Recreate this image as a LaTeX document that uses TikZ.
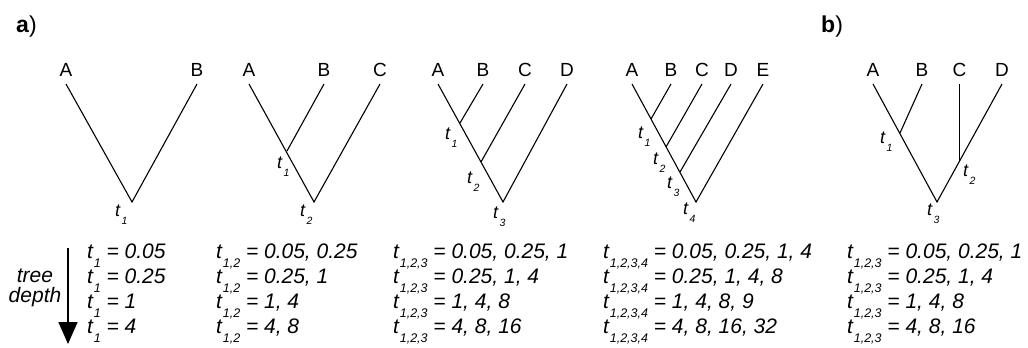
\documentclass[tikz,border=0pt]{standalone}
\usepackage{fontspec}
\setmainfont{Liberation Sans}
\usetikzlibrary{arrows.meta}
\newcommand{\tsub}[2][12.5]{\textit{t}\kern0.8pt\raisebox{-0.43em}{\fontsize{#1}{#1}\selectfont\itshape #2}}

\begin{document}
\begin{tikzpicture}[x=1pt, y=-1pt, every node/.style={inner sep=0pt}]
\tikzset{leaf/.style={anchor=south, inner ysep=7pt, font=\fontsize{19}{21}\selectfont},
  tl/.style={anchor=north west, font=\fontsize{18}{20}\selectfont},
  row/.style={anchor=base west, font=\fontsize{21}{24}\selectfont\itshape},
  br/.style={line width=1.1pt}}
\useasboundingbox (0,0) rectangle (1028,348);
% --- panel labels ---
\node[anchor=base west, font=\fontsize{23}{25}\selectfont] (pa) at (16,32) {\textbf{a})};
\node[anchor=base west, font=\fontsize{23}{25}\selectfont] (pb) at (821,32) {\textbf{b})};
% --- tree 1: two taxa ---
\node[leaf] (a1A) at (66,84) {A};
\node[leaf] (a1B) at (197,84) {B};
\coordinate (a1r) at (132,202);
\draw[br] (a1A.south) -- (a1r) -- (a1B.south);
\node[tl] (a1t1) at (115,205) {\tsub[10.5]{1}};
% --- tree 2: three taxa ---
\node[leaf] (a2A) at (249,84) {A};
\node[leaf] (a2B) at (324,84) {B};
\node[leaf] (a2C) at (380,84) {C};
\coordinate (a2j1) at (287,151);
\coordinate (a2r) at (314,202);
\draw[br] (a2A.south) -- (a2r) -- (a2C.south);
\draw[br] (a2B.south) -- (a2j1);
\node[tl] (a2t1) at (277,157) {\tsub[10.5]{1}};
\node[tl] (a2t2) at (300,205) {\tsub[10.5]{2}};
% --- tree 3: four taxa ---
\node[leaf] (a3A) at (438,84) {A};
\node[leaf] (a3B) at (483,84) {B};
\node[leaf] (a3C) at (525,84) {C};
\node[leaf] (a3D) at (567,84) {D};
\coordinate (a3j1) at (460,123);
\coordinate (a3j2) at (481,162);
\coordinate (a3r) at (503,202);
\draw[br] (a3A.south) -- (a3r) -- (a3D.south);
\draw[br] (a3B.south) -- (a3j1);
\draw[br] (a3C.south) -- (a3j2);
\node[tl] (a3t1) at (445,128) {\tsub[10.5]{1}};
\node[tl] (a3t2) at (467,172) {\tsub[10.5]{2}};
\node[tl] (a3t3) at (493,207) {\tsub[10.5]{3}};
% --- tree 4: five taxa ---
\node[leaf] (a4A) at (632,84) {A};
\node[leaf] (a4B) at (671,84) {B};
\node[leaf] (a4C) at (702,84) {C};
\node[leaf] (a4D) at (731,84) {D};
\node[leaf] (a4E) at (763,84) {E};
\coordinate (a4j1) at (651,119);
\coordinate (a4j2) at (666,147);
\coordinate (a4j3) at (680,172);
\coordinate (a4r) at (696,202);
\draw[br] (a4A.south) -- (a4r) -- (a4E.south);
\draw[br] (a4B.south) -- (a4j1);
\draw[br] (a4C.south) -- (a4j2);
\draw[br] (a4D.south) -- (a4j3);
\node[tl] (a4t1) at (638,127) {\tsub[10.5]{1}};
\node[tl] (a4t2) at (653,153) {\tsub[10.5]{2}};
\node[tl] (a4t3) at (667,177) {\tsub[10.5]{3}};
\node[tl] (a4t4) at (683,203) {\tsub[10.5]{4}};
% --- tree b: balanced four taxa ---
\node[leaf] (bA) at (873,84) {A};
\node[leaf] (bB) at (922,84) {B};
\node[leaf] (bC) at (959.5,84) {C};
\node[leaf] (bD) at (1002,84) {D};
\coordinate (bj1) at (900,133);
\coordinate (bj2) at (959.5,160);
\coordinate (br) at (937,202);
\draw[br] (bA.south) -- (br) -- (bD.south);
\draw[br] (bB.south) -- (bj1);
\draw[br] (bC.south) -- (bj2);
\node[tl] (bt1) at (880,132) {\tsub[10.5]{1}};
\node[tl] (bt2) at (963,165) {\tsub[10.5]{2}};
\node[tl] (bt3) at (927,204) {\tsub[10.5]{3}};
% --- tree depth arrow ---
\coordinate (d0) at (68,248);
\coordinate (d1) at (68,344);
\draw[line width=1.6pt, -{Triangle[width=19pt,length=22pt]}] (d0) -- (d1);
\node[align=center, font=\fontsize{21}{19.5}\selectfont\itshape] (depth) at (35,288) {tree\\depth};
% --- branch times ---
\foreach \v [count=\k from 0] in {0.05, 0.25, 1, 4}
  \node[row] (c1r\k) at (87,258+25*\k) {\tsub{1} = \v};
\foreach \v [count=\k from 0] in {{0.05, 0.25}, {0.25, 1}, {1, 4}, {4, 8}}
  \node[row] (c2r\k) at (216,258+25*\k) {\tsub{1,2} = \v};
\foreach \v [count=\k from 0] in {{0.05, 0.25, 1}, {0.25, 1, 4}, {1, 4, 8}, {4, 8, 16}}
  \node[row] (c3r\k) at (393,258+25*\k) {\tsub{1,2,3} = \v};
\foreach \v [count=\k from 0] in {{0.05, 0.25, 1, 4}, {0.25, 1, 4, 8}, {1, 4, 8, 9}, {4, 8, 16, 32}}
  \node[row] (c4r\k) at (603,258+25*\k) {\tsub{1,2,3,4} = \v};
\foreach \v [count=\k from 0] in {{0.05, 0.25, 1}, {0.25, 1, 4}, {1, 4, 8}, {4, 8, 16}}
  \node[row] (c5r\k) at (847,258+25*\k) {\tsub{1,2,3} = \v};
\end{tikzpicture}
\end{document}
